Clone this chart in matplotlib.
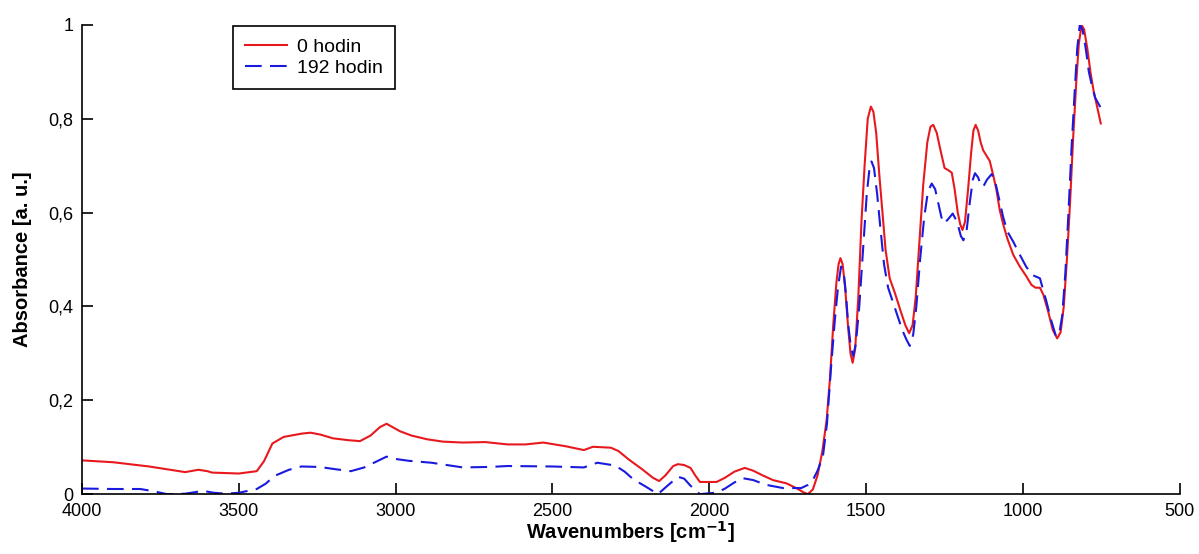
import matplotlib.pyplot as plt
from matplotlib.ticker import FuncFormatter

plt.rcParams['font.family'] = ['Liberation Sans', 'DejaVu Sans']

# 0 hodin (red, solid)
wn_0h = [4000, 3900, 3786, 3729, 3671, 3629, 3600, 3586, 3500, 3443, 3420, 3393,
         3357, 3300, 3271, 3240, 3200, 3150, 3114, 3080, 3050, 3029, 3010, 2986,
         2950, 2900, 2850, 2786, 2714, 2643, 2586, 2529, 2457, 2400, 2371, 2314,
         2290, 2257, 2214, 2180, 2160, 2140, 2115, 2100, 2080, 2060, 2045, 2030,
         2000, 1977, 1950, 1920, 1887, 1860, 1830, 1797, 1754, 1720, 1700, 1686,
         1670, 1655, 1640, 1626, 1615, 1605, 1595, 1588, 1582, 1575, 1567, 1558,
         1550, 1543, 1535, 1525, 1515, 1505, 1495, 1485, 1477, 1468, 1458, 1448,
         1438, 1425, 1408, 1390, 1375, 1363, 1352, 1342, 1330, 1318, 1305, 1295,
         1286, 1275, 1262, 1250, 1237, 1227, 1218, 1208, 1200, 1193, 1185, 1175,
         1165, 1158, 1151, 1143, 1135, 1127, 1115, 1106, 1095, 1085, 1074, 1063,
         1050, 1031, 1010, 990, 973, 960, 946, 935, 920, 905, 891, 880, 870, 860,
         850, 840, 830, 822, 813, 805, 795, 785, 775, 765, 752]
abs_0h = [0.072, 0.068, 0.059, 0.053, 0.047, 0.052, 0.049, 0.046, 0.044, 0.049, 0.070, 0.108,
          0.122, 0.129, 0.131, 0.127, 0.119, 0.115, 0.113, 0.125, 0.143, 0.150, 0.143, 0.134,
          0.125, 0.117, 0.112, 0.110, 0.111, 0.106, 0.106, 0.110, 0.102, 0.094, 0.101, 0.099,
          0.092, 0.074, 0.053, 0.035, 0.028, 0.040, 0.060, 0.064, 0.062, 0.056, 0.040, 0.026,
          0.026, 0.026, 0.035, 0.048, 0.056, 0.050, 0.040, 0.030, 0.023, 0.012, 0.004, 0.000,
          0.010, 0.040, 0.090, 0.158, 0.250, 0.360, 0.450, 0.490, 0.503, 0.490, 0.440, 0.360,
          0.300, 0.280, 0.310, 0.420, 0.580, 0.700, 0.800, 0.826, 0.815, 0.770, 0.680, 0.600,
          0.520, 0.460, 0.428, 0.390, 0.360, 0.343, 0.360, 0.420, 0.540, 0.660, 0.750, 0.783,
          0.787, 0.770, 0.730, 0.695, 0.690, 0.685, 0.650, 0.600, 0.575, 0.563, 0.580, 0.650,
          0.730, 0.775, 0.787, 0.775, 0.750, 0.733, 0.720, 0.710, 0.680, 0.650, 0.605, 0.575,
          0.545, 0.510, 0.485, 0.465, 0.446, 0.440, 0.440, 0.425, 0.390, 0.350, 0.332, 0.345,
          0.400, 0.500, 0.620, 0.760, 0.880, 0.960, 1.000, 0.990, 0.950, 0.900, 0.860, 0.830,
          0.790]

# 192 hodin (blue, dashed)
wn_192h = [4000, 3900, 3814, 3770, 3729, 3671, 3614, 3580, 3543, 3500, 3443, 3415,
           3386, 3340, 3300, 3243, 3190, 3143, 3100, 3060, 3029, 3000, 2957, 2886,
           2786, 2700, 2643, 2500, 2400, 2357, 2300, 2270, 2243, 2200, 2164, 2130,
           2100, 2080, 2060, 2030, 2000, 1977, 1950, 1920, 1893, 1860, 1820, 1765,
           1707, 1685, 1670, 1655, 1638, 1625, 1612, 1600, 1590, 1580, 1572, 1565,
           1557, 1548, 1541, 1533, 1522, 1510, 1498, 1490, 1483, 1475, 1465, 1455,
           1443, 1430, 1415, 1400, 1385, 1372, 1361, 1350, 1340, 1328, 1315, 1303,
           1291, 1280, 1270, 1260, 1252, 1240, 1224, 1210, 1198, 1190, 1180, 1170,
           1160, 1153, 1143, 1135, 1127, 1115, 1100, 1090, 1080, 1074, 1063, 1050,
           1031, 1010, 990, 970, 946, 925, 910, 895, 885, 875, 865, 855, 845, 835,
           827, 819, 810, 800, 790, 780, 770, 752]
abs_192h = [0.012, 0.011, 0.011, 0.006, 0.000, 0.001, 0.007, 0.003, 0.001, 0.003, 0.011, 0.022,
            0.039, 0.052, 0.059, 0.058, 0.053, 0.049, 0.057, 0.070, 0.080, 0.075, 0.071, 0.067,
            0.057, 0.058, 0.060, 0.059, 0.057, 0.067, 0.061, 0.048, 0.032, 0.015, 0.000, 0.020,
            0.037, 0.033, 0.018, 0.000, 0.002, 0.003, 0.012, 0.025, 0.034, 0.030, 0.020, 0.013,
            0.013, 0.020, 0.030, 0.050, 0.080, 0.150, 0.270, 0.370, 0.440, 0.485, 0.475, 0.430,
            0.360, 0.310, 0.295, 0.320, 0.400, 0.520, 0.640, 0.690, 0.709, 0.695, 0.640, 0.570,
            0.490, 0.440, 0.410, 0.380, 0.350, 0.330, 0.316, 0.340, 0.400, 0.500, 0.590, 0.645,
            0.662, 0.650, 0.620, 0.590, 0.577, 0.585, 0.598, 0.580, 0.550, 0.541, 0.560, 0.620,
            0.670, 0.684, 0.675, 0.660, 0.655, 0.670, 0.682, 0.670, 0.640, 0.623, 0.590, 0.560,
            0.538, 0.510, 0.485, 0.467, 0.460, 0.410, 0.370, 0.337, 0.340, 0.380, 0.470, 0.600,
            0.740, 0.860, 0.950, 1.000, 0.990, 0.950, 0.900, 0.870, 0.845, 0.823]

x_ticks = [4000, 3500, 3000, 2500, 2000, 1500, 1000, 500]
y_ticks = [0, 0.2, 0.4, 0.6, 0.8, 1]

fig = plt.figure(figsize=(11.99, 5.54), dpi=100)
ax = fig.add_axes([0.0684, 0.108, 0.9156, 0.847])

ax.plot(wn_0h, abs_0h, color='#e8191e', linewidth=1.5, solid_joinstyle='round',
        label='0 hodin')
ax.plot(wn_192h, abs_192h, color='#1a1adf', linewidth=1.5, dash_joinstyle='round',
        linestyle=(0, (8, 4)), label='192 hodin')

ax.set_xlim(4000, 500)
ax.set_ylim(0, 1)
ax.set_xticks(x_ticks)
ax.set_yticks(y_ticks)
ax.yaxis.set_major_formatter(FuncFormatter(lambda v, p: f'{v:g}'.replace('.', ',')))

for side in ['top', 'right']:
    ax.spines[side].set_visible(False)
for side in ['left', 'bottom']:
    ax.spines[side].set_linewidth(1.2)
ax.tick_params(direction='in', length=8, width=1.2, labelsize=13, pad=6)

ax.set_xlabel('Wavenumbers [cm$^{\\mathbf{-1}}$]', fontsize=14.5, fontweight='bold', labelpad=0)
ax.set_ylabel('Absorbance [a. u.]', fontsize=14.5, fontweight='bold', labelpad=12)

leg = ax.legend(loc='upper left', bbox_to_anchor=(0.1375, 0.997), borderaxespad=0,
                fontsize=14, frameon=True, fancybox=False, edgecolor='black',
                framealpha=1, handlelength=2.2, handletextpad=0.5,
                borderpad=0.6, labelspacing=0.2)
leg.get_frame().set_linewidth(1.2)

fig.savefig('out.png', dpi=100)
